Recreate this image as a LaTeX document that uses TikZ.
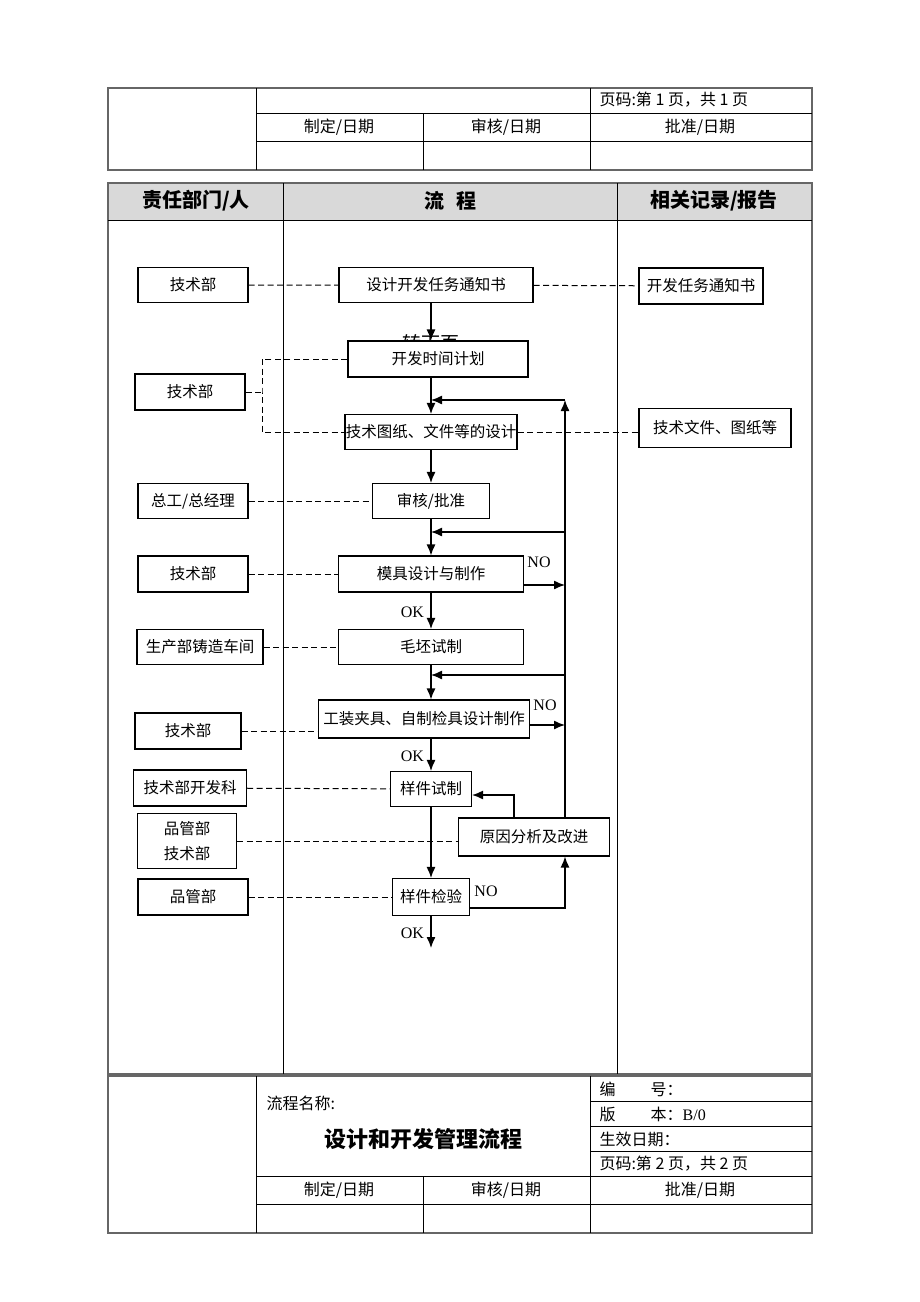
\documentclass[tikz,border=0pt]{standalone}
\usepackage{fontspec}
\setmainfont{Liberation Serif}
\newfontfamily\cjk{Noto Sans CJK SC}
\usetikzlibrary{arrows.meta}

\begin{document}
\begin{tikzpicture}[x=1pt,y=-1pt,
  box/.style={draw,fill=white,line width=1.1pt,inner sep=0pt,font=\cjk\fontsize{15.5}{18}\selectfont},
  link/.style={dash pattern=on 6pt off 3.5pt,line width=1pt},
  flow/.style={-{Latex[length=11pt,width=9pt]},line width=1.3pt},
  frame/.style={line width=1.8pt,draw=black!60},
  rule/.style={line width=0.8pt},
  cell/.style={font=\cjk\fontsize{16}{19}\selectfont},
  lbl/.style={font=\fontsize{16}{19}\selectfont}]
        \fill[white] (0,0) rectangle (920,1302);
        \useasboundingbox (0,0) rectangle (920,1302);

        % top table
        \draw[frame] (108,88) rectangle (812,170);
        \draw[rule] (256,88) -- (256,170) (256,113) -- (812,113) (256,141) -- (812,141)
                    (590,88) -- (590,170) (423,113) -- (423,170);
        \node[cell,anchor=west] (pg1) at (596,100) {页码:第 1 页，共 1 页};
        \node[cell] (mk1) at (339,127) {制定/日期};
        \node[cell] (ck1) at (506,127) {审核/日期};
        \node[cell] (ap1) at (700,127) {批准/日期};

        % main table
        \fill[gray!30] (108,183) rectangle (812,220);
        \draw[frame] (108,183) rectangle (812,1074);
        \draw[rule] (108,220) -- (812,220) (283,183) -- (283,1074) (617,183) -- (617,1074);
        \node[cell,font=\cjk\bfseries\fontsize{20}{24}\selectfont] (h1) at (196,201) {责任部门/人};
        \node[cell,font=\cjk\bfseries\fontsize{20}{24}\selectfont] (h2) at (450,201) {流\hspace{0.6em}程};
        \node[cell,font=\cjk\bfseries\fontsize{20}{24}\selectfont] (h3) at (714,201) {相关记录/报告};

        % flow
        \node[cell,font=\cjk\fontsize{19}{22}\selectfont] (next) at (431,343) {转下页};
        \node[box,minimum width=194pt,minimum height=35pt] (p1) at (436,285) {设计开发任务通知书};
        \node[box,minimum width=180pt,minimum height=36pt] (p2) at (438,359) {开发时间计划};
        \node[box,minimum width=172pt,minimum height=35pt] (p3) at (431,432) {技术图纸、文件等的设计};
        \node[box,minimum width=117pt,minimum height=35pt] (p4) at (431,501) {审核/批准};
        \node[box,minimum width=185pt,minimum height=36pt] (p5) at (431,574) {模具设计与制作};
        \node[box,minimum width=185pt,minimum height=35pt] (p6) at (431,647) {毛坯试制};
        \node[box,minimum width=211pt,minimum height=38pt] (p7) at (424,719) {工装夹具、自制检具设计制作};
        \node[box,minimum width=81pt,minimum height=35pt] (p8) at (431,789) {样件试制};
        \node[box,minimum width=151pt,minimum height=38pt] (p9) at (534,837) {原因分析及改进};
        \node[box,minimum width=77pt,minimum height=37pt] (p10) at (431,897) {样件检验};

        \node[box,minimum width=110pt,minimum height=35pt] (d1) at (193,285) {技术部};
        \node[box,minimum width=110pt,minimum height=36pt] (d2) at (190,392) {技术部};
        \node[box,minimum width=110pt,minimum height=35pt] (d3) at (193,501) {总工/总经理};
        \node[box,minimum width=110pt,minimum height=36pt] (d4) at (193,574) {技术部};
        \node[box,minimum width=126pt,minimum height=35pt] (d5) at (200,647) {生产部铸造车间};
        \node[box,minimum width=106pt,minimum height=36pt] (d6) at (188,731) {技术部};
        \node[box,minimum width=113pt,minimum height=36pt] (d7) at (190,788) {技术部开发科};
        \node[box,minimum width=99pt,minimum height=55pt,align=center] (d8) at (187,841) {品管部\\[7pt]技术部};
        \node[box,minimum width=110pt,minimum height=36pt] (d9) at (193,897) {品管部};

        \node[box,minimum width=124pt,minimum height=36pt] (r1) at (701,286) {开发任务通知书};
        \node[box,minimum width=152pt,minimum height=39pt] (r2) at (715,428) {技术文件、图纸等};

        \coordinate (j1) at (262,392);
        \coordinate (t) at (565,400);
        \coordinate (j2) at (565,532);
        \coordinate (j3) at (565,675);
        \coordinate (n1) at (565,585);
        \coordinate (n2) at (565,725);
        \coordinate (n3) at (514,795);
        \coordinate (n4) at (565,908);
        \coordinate (end) at (431,948);

        \draw[link] (d1) -- (p1) (p1) -- (r1);
        \draw[link] (d2.east) -- (j1);
        \draw[link] (p2.west) -| (j1) |- (p3.west);
        \draw[link] (p3.east) -- (p3.east -| r2.west);
        \draw[link] (d3) -- (p4);
        \draw[link] (d4) -- (p5);
        \draw[link] (d5.east) -- (d5.east -| p6.west);
        \draw[link] (d6.east) -- (d6.east -| p7.west);
        \draw[link] (d7) -- (p8);
        \draw[link] (d8.east) -- (d8.east -| p9.west);
        \draw[link] (d9) -- (p10);

        \draw[flow] (p4 |- p1.south) -- (p4 |- p2.north);
        \draw[flow] (p4 |- p2.south) -- (p3.north);
        \draw[flow] (p3.south) -- (p4.north);
        \draw[flow] (p4.south) -- (p5.north);
        \draw[flow] (p5.south) -- node[lbl,left,xshift=-3pt,yshift=-2pt] {OK} (p6.north);
        \draw[flow] (p6.south) -- (p6 |- p7.north);
        \draw[flow] (p6 |- p7.south) -- node[lbl,left,xshift=-3pt,yshift=-2pt] {OK} (p8.north);
        \draw[flow] (p8.south) -- (p10.north);
        \draw[flow] (p10.south) -- node[lbl,left,xshift=-3pt,yshift=-1pt] {OK} (end);

        \draw[flow] (p9.north -| t) -- (t);
        \draw[flow] (t) -- (p3 |- t);
        \draw[flow] (j2) -- (p4 |- j2);
        \draw[flow] (j3) -- (p6 |- j3);
        \draw[flow] (p5.east |- n1) -- (n1);
        \draw[flow] (p7.east |- n2) -- (n2);
        \draw[flow] (p9.north -| n3) -- (n3) -- (p8.east |- n3);
        \draw[flow] (p10.east |- n4) -- (n4) -- (p9.south -| n4);

        \node[lbl] (no1) at (539,562) {NO};
        \node[lbl] (no2) at (545,705) {NO};
        \node[lbl] (no3) at (486,891) {NO};

        % bottom table
        \draw[frame] (108,1076) rectangle (812,1233);
        \draw[rule] (256,1076) -- (256,1233) (590,1076) -- (590,1233) (423,1176) -- (423,1233)
                    (590,1101) -- (812,1101) (590,1126) -- (812,1126) (590,1151) -- (812,1151)
                    (256,1176) -- (812,1176) (256,1204) -- (812,1204);
        \node[cell,anchor=west] (name) at (263,1103) {流程名称:};
        \node[cell,font=\cjk\bfseries\fontsize{22}{26}\selectfont] (title) at (423,1139) {设计和开发管理流程};
        \node[cell,anchor=west] (no) at (596,1089) {编\hspace{2.2em}号：};
        \node[cell,anchor=west] (ver) at (596,1114) {版\hspace{2.2em}本：\rmfamily B/0};
        \node[cell,anchor=west] (date) at (596,1139) {生效日期：};
        \node[cell,anchor=west] (pg2) at (596,1164) {页码:第 2 页，共 2 页};
        \node[cell] (mk2) at (339,1190) {制定/日期};
        \node[cell] (ck2) at (506,1190) {审核/日期};
        \node[cell] (ap2) at (700,1190) {批准/日期};
      \end{tikzpicture}
\end{document}
